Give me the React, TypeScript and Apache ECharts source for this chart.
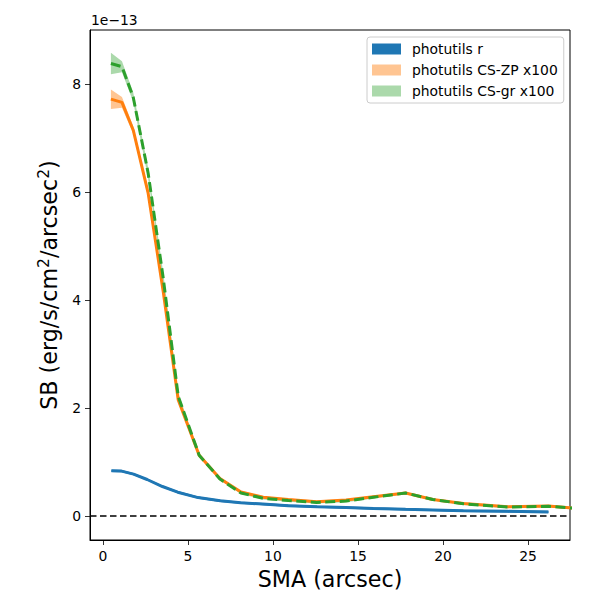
import React, { useEffect, useRef } from "react";
import * as echarts from "echarts";

// SMA sample points (arcsec)
const smaR = [0.5, 1.1, 1.8, 2.6, 3.5, 4.4, 5.6, 6.9, 8.1, 9.4, 10.9, 12.6, 14.3, 15.9, 17.8, 19.4, 21.2, 23.8, 26.2];
const smaCS = [0.47, 1.12, 1.78, 2.66, 3.55, 4.43, 5.66, 6.88, 8.12, 9.43, 10.9, 12.57, 14.3, 15.9, 17.8, 19.4, 21.2, 23.8, 26.2, 27.6];

// Surface brightness, in units of 1e-13 erg/s/cm^2/arcsec^2
const rVals = [0.84, 0.835, 0.78, 0.68, 0.55, 0.445, 0.345, 0.285, 0.25, 0.225, 0.195, 0.175, 0.16, 0.145, 0.128, 0.115, 0.1, 0.09, 0.08];
const rErr = [0.02, 0.02, 0.02, 0.02, 0.02, 0.02, 0.02, 0.02, 0.02, 0.02, 0.02, 0.02, 0.02, 0.02, 0.02, 0.02, 0.02, 0.02, 0.02];

const zpVals = [7.72, 7.66, 7.15, 5.98, 4.15, 2.15, 1.13, 0.7, 0.45, 0.35, 0.31, 0.27, 0.3, 0.36, 0.43, 0.31, 0.235, 0.175, 0.19, 0.15];
const zpErr = [0.18, 0.1, 0.07, 0.08, 0.08, 0.05, 0.03, 0.025, 0.02, 0.02, 0.02, 0.02, 0.02, 0.02, 0.02, 0.02, 0.02, 0.02, 0.02, 0.02];

const grVals = [8.38, 8.32, 7.76, 6.35, 4.4, 2.22, 1.13, 0.69, 0.43, 0.33, 0.29, 0.255, 0.28, 0.35, 0.43, 0.31, 0.23, 0.17, 0.185, 0.15];
const grErr = [0.2, 0.1, 0.09, 0.1, 0.1, 0.06, 0.03, 0.025, 0.02, 0.02, 0.02, 0.02, 0.02, 0.02, 0.02, 0.02, 0.02, 0.02, 0.02, 0.02];

const xTicks = [0, 5, 10, 15, 20, 25];
const yTicks = [0, 2, 4, 6, 8];

const legendNames = ["photutils r", "photutils CS-ZP x100", "photutils CS-gr x100"];

const FONT = "DejaVu Sans";
const BLUE = "#1f77b4";
const ORANGE = "#ff7f0e";
const GREEN = "#2ca02c";

function bandSeries(name: string, xs: number[], vals: number[], errs: number[], fill: string) {
  const data = xs.map((x, i) => [x, vals[i] - errs[i], vals[i] + errs[i]]);
  return {
    type: "custom",
    name,
    data,
    silent: true,
    clip: true,
    z: 2,
    itemStyle: { color: fill },
    encode: { x: 0, y: [1, 2] },
    renderItem: (params: any, api: any) => {
      if (params.dataIndex !== 0) return null;
      const upper = data.map((d) => api.coord([d[0], d[2]]));
      const lower = data.map((d) => api.coord([d[0], d[1]])).reverse();
      return {
        type: "polygon",
        shape: { points: upper.concat(lower) },
        style: { fill, stroke: "none" },
      };
    },
  };
}

export default function App() {
  const ref = useRef<HTMLDivElement>(null);

  useEffect(() => {
    if (!ref.current) return;
    const chart = echarts.init(ref.current, undefined, { renderer: "svg" });

    const option: any = {
      animation: false,
      backgroundColor: "#ffffff",
      textStyle: { fontFamily: FONT },
      grid: {
        left: 90,
        right: 30,
        top: 30,
        bottom: 60,
        show: true,
        borderColor: "#000",
        borderWidth: 1,
        backgroundColor: "transparent",
      },
      xAxis: {
        type: "value",
        min: -0.76,
        max: 27.47,
        name: "SMA (arcsec)",
        nameLocation: "middle",
        nameGap: 25,
        nameTextStyle: { fontSize: 22.2, color: "#000", fontFamily: FONT },
        axisLine: { show: true, onZero: false, lineStyle: { color: "#000", width: 1 } },
        axisTick: { show: true, inside: false, length: 5, lineStyle: { color: "#000", width: 0.8 }, customValues: xTicks },
        axisLabel: { show: true, margin: 9, fontSize: 13.9, color: "#000", fontFamily: FONT, customValues: xTicks },
        splitLine: { show: false },
      },
      yAxis: {
        type: "value",
        min: -0.44,
        max: 9.0,
        name: "SB (erg/s/cm{sup|2}/arcsec{sup|2})",
        nameLocation: "middle",
        nameGap: 28,
        nameRotate: 90,
        nameTextStyle: {
          fontSize: 22.2,
          color: "#000",
          fontFamily: FONT,
          rich: {
            sup: { fontSize: 15.5, color: "#000", fontFamily: FONT, verticalAlign: "top", lineHeight: 26 },
          },
        },
        axisLine: { show: true, onZero: false, lineStyle: { color: "#000", width: 1 } },
        axisTick: { show: true, inside: false, length: 5, lineStyle: { color: "#000", width: 0.8 }, customValues: yTicks },
        axisLabel: { show: true, margin: 9, fontSize: 13.9, color: "#000", fontFamily: FONT, customValues: yTicks },
        splitLine: { show: false },
      },
      legend: {
        show: true,
        orient: "vertical",
        left: 367,
        top: 37,
        padding: [5, 6, 5, 5],
        itemGap: 7,
        itemWidth: 29,
        itemHeight: 11,
        icon: "rect",
        selectedMode: false,
        borderColor: "#cccccc",
        borderWidth: 1,
        borderRadius: 3,
        backgroundColor: "rgba(255,255,255,0.8)",
        textStyle: { fontSize: 13.9, color: "#000", fontFamily: FONT, padding: [0, 0, 0, 6] },
        data: [
          { name: legendNames[0], itemStyle: { color: BLUE } },
          { name: legendNames[1], itemStyle: { color: "rgba(255,127,14,0.45)" } },
          { name: legendNames[2], itemStyle: { color: "rgba(44,160,44,0.4)" } },
        ],
      },
      graphic: [
        {
          type: "text",
          left: 91,
          top: 13,
          style: { text: "1e\u221213", font: '13.9px "DejaVu Sans"', fill: "#000" },
        },
      ],
      series: [
        bandSeries(legendNames[0], smaR, rVals, rErr, BLUE),
        {
          type: "line",
          name: "r-line",
          data: smaR.map((x, i) => [x, rVals[i]]),
          symbol: "none",
          silent: true,
          lineStyle: { color: BLUE, width: 3 },
          itemStyle: { color: BLUE },
          z: 3,
          markLine: {
            silent: true,
            symbol: "none",
            label: { show: false },
            lineStyle: { color: "#000", width: 1.6, type: [6.5, 3.5] },
            data: [{ yAxis: 0 }],
          },
        },
        bandSeries(legendNames[1], smaCS, zpVals, zpErr, "rgba(255,127,14,0.45)"),
        {
          type: "line",
          name: "zp-line",
          data: smaCS.map((x, i) => [x, zpVals[i]]),
          symbol: "none",
          silent: true,
          lineStyle: { color: ORANGE, width: 3 },
          itemStyle: { color: ORANGE },
          z: 3,
        },
        bandSeries(legendNames[2], smaCS, grVals, grErr, "rgba(44,160,44,0.4)"),
        {
          type: "line",
          name: "gr-line",
          data: smaCS.map((x, i) => [x, grVals[i]]),
          symbol: "none",
          silent: true,
          lineStyle: { color: GREEN, width: 3, type: [10, 4.5] },
          itemStyle: { color: GREEN },
          z: 3,
        },
      ],
    };

    chart.setOption(option);
    return () => {
      chart.dispose();
    };
  }, []);

  return (
    <div
      ref={ref}
      style={{ position: "fixed", left: 0, top: 0, width: 600, height: 600, background: "#fff" }}
    />
  );
}
